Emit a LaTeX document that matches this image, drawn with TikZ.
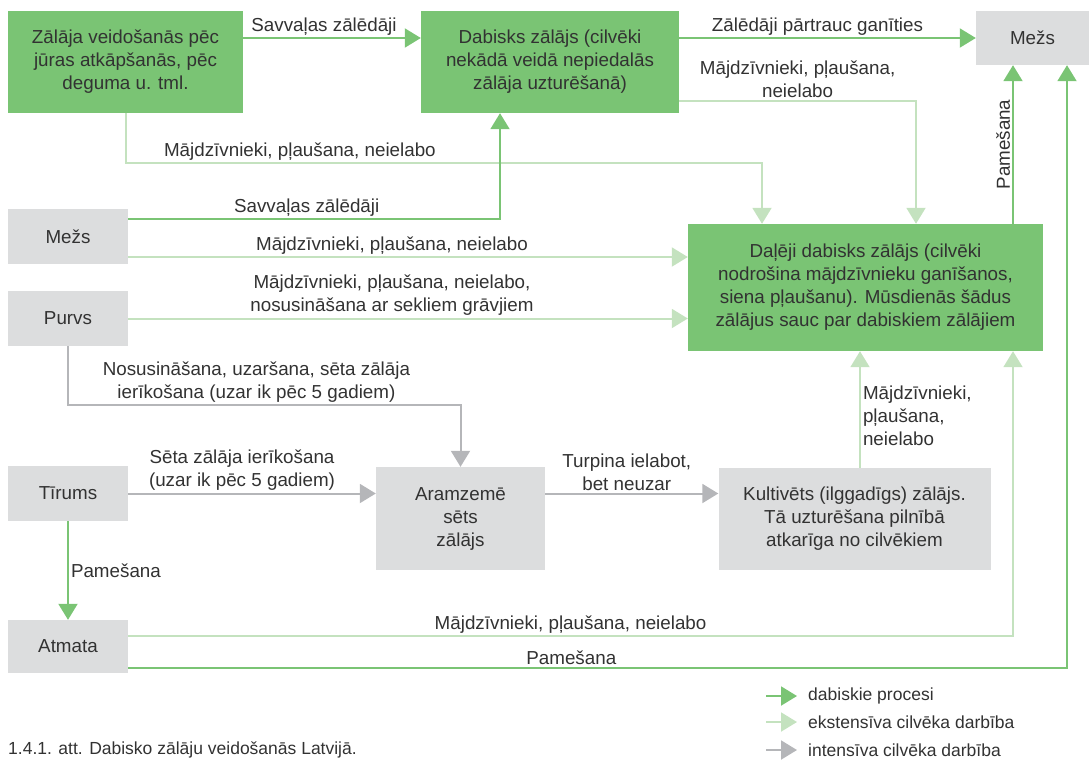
\documentclass[tikz,border=0pt]{standalone}
\usepackage{fontspec}
\setmainfont{Liberation Sans}
\usetikzlibrary{arrows.meta,calc}
\definecolor{dgreen}{RGB}{122,196,116}
\definecolor{lgreen}{RGB}{196,226,191}
\definecolor{gline}{RGB}{181,182,185}
\definecolor{gbox}{RGB}{220,221,222}
\definecolor{txt}{RGB}{50,50,50}
\begin{document}
\begin{tikzpicture}[x=1pt,y=-1pt,
  every node/.style={font=\fontsize{18.8}{23}\selectfont, text=txt},
  greenbox/.style={fill=dgreen, inner sep=0pt, align=center},
  graybox/.style={fill=gbox, inner sep=0pt, align=center},
  tip/.style={-{Triangle[length=16pt,width=19pt]}},
  dga/.style={draw=dgreen, line width=2pt, tip, dgreen},
  lga/.style={draw=lgreen, line width=2pt, tip, lgreen},
  gra/.style={draw=gline, line width=2pt, tip, gline},
  lbl/.style={inner sep=2pt, align=center, text=txt},
  leg/.style={font=\fontsize{17.5}{20}\selectfont, inner sep=0pt, anchor=west}]
\useasboundingbox (0,0) rectangle (1089,761);

% nodes
\node[greenbox, minimum width=235pt, minimum height=102pt] (box1) at (125.5,62) {Zālāja veidošanās pēc\\jūras atkāpšanās, pēc\\deguma u. tml.};
\node[greenbox, minimum width=258pt, minimum height=102pt] (box2) at (550,62) {Dabisks zālājs (cilvēki\\nekādā veidā nepiedalās\\zālāja uzturēšanā)};
\node[graybox, minimum width=113pt, minimum height=54pt] (mezsTR) at (1032.5,38) {Mežs};
\node[graybox, minimum width=120pt, minimum height=55pt] (mezsL) at (68,236.5) {Mežs};
\node[graybox, minimum width=120pt, minimum height=55pt] (purvs) at (68,318.5) {Purvs};
\node[greenbox, minimum width=355pt, minimum height=127pt] (dalj) at (865.5,287.5) {Daļēji dabisks zālājs (cilvēki\\nodrošina mājdzīvnieku ganīšanos,\\siena pļaušanu). Mūsdienās šādus\\zālājus sauc par dabiskiem zālājiem};
\node[graybox, minimum width=120pt, minimum height=55pt] (tirums) at (68,493.5) {Tīrums};
\node[graybox, minimum width=169pt, minimum height=103pt] (aram) at (460.5,518.5) {Aramzemē\\sēts\\zālājs};
\node[graybox, minimum width=272pt, minimum height=102pt] (kult) at (854.5,519) {Kultivēts (ilggadīgs) zālājs.\\Tā uzturēšana pilnībā\\atkarīga no cilvēkiem};
\node[graybox, minimum width=120pt, minimum height=53pt] (atmata) at (68,646.5) {Atmata};

% connectors
\draw[dga] ([yshift=24pt]box1.east) -- ([yshift=24pt]box2.west)
  node[lbl, midway, above, xshift=-8pt] {Savvaļas zālēdāji};
\draw[dga] ([yshift=24pt]box2.east) -- (mezsTR.west)
  node[lbl, midway, above, xshift=-10pt] {Zālēdāji pārtrauc ganīties};
\draw[lga] ([yshift=-39pt]box2.east) -| ([xshift=50.5pt]dalj.north)
  node[lbl, pos=0.25, above] {Mājdzīvnieki, pļaušana,\\neielabo};
\coordinate (c4) at (762,163);
\draw[lga] (box1.south) |- (c4) -- (c4 |- dalj.north);
\path (box1.south) |- (c4) node[lbl, pos=0.637, above] {Mājdzīvnieki, pļaušana, neielabo};
\draw[dga] ([yshift=17.5pt]mezsL.east) -| ([xshift=-50pt]box2.south)
  node[lbl, pos=0.24, above] {Savvaļas zālēdāji};
\coordinate (m6) at ([yshift=-20.5pt]mezsL.east);
\draw[lga] (m6) -- (m6 -| dalj.west)
  node[lbl, midway, above, xshift=-16pt] {Mājdzīvnieki, pļaušana, neielabo};
\draw[lga] (purvs.east) -- (purvs.east -| dalj.west)
  node[lbl, midway, above, xshift=-16pt] {Mājdzīvnieki, pļaušana, neielabo,\\nosusināšana ar sekliem grāvjiem};
\draw[gra] (purvs.south) |- ([yshift=62pt]aram.north) -- (aram.north);
\path (purvs.south) |- ([yshift=62pt]aram.north)
  node[lbl, pos=0.74, above] {Nosusināšana, uzaršana, sēta zālāja\\ierīkošana (uzar ik pēc 5 gadiem)};
\draw[gra] (tirums.east) -- (tirums.east -| aram.west)
  node[lbl, midway, above, xshift=-10pt] {Sēta zālāja ierīkošana\\(uzar ik pēc 5 gadiem)};
\draw[gra] (tirums.east -| aram.east) -- (tirums.east -| kult.west)
  node[lbl, midway, above, xshift=-5pt] {Turpina ielabot,\\bet neuzar};
\coordinate (k11) at ([xshift=5.5pt]kult.north);
\draw[lga] (k11) -- (k11 |- dalj.south)
  node[lbl, midway, right, align=left, yshift=-6pt] {Mājdzīvnieki,\\pļaušana,\\neielabo};
\draw[dga] (tirums.south) -- (atmata.north)
  node[lbl, midway, right] {Pamešana};
\draw[lga] ([yshift=10.5pt]atmata.east) -| ([xshift=147.5pt]dalj.south)
  node[lbl, pos=0.25, above] {Mājdzīvnieki, pļaušana, neielabo};
\draw[dga] ([yshift=-21.5pt]atmata.east) -| ([xshift=34.5pt]mezsTR.south)
  node[lbl, pos=0.236, above] {Pamešana};
\draw[dga] ([xshift=147.5pt]dalj.north) -- ([xshift=-19.5pt]mezsTR.south)
  node[lbl, midway, sloped, above] {Pamešana};

% legend
\node[leg] (t1) at (808,696) {dabiskie procesi};
\node[leg] (t2) at (808,722) {ekstensīva cilvēka darbība};
\node[leg] (t3) at (808,750) {intensīva cilvēka darbība};
\coordinate (s1) at (766,696);
\coordinate (s2) at (766,722);
\coordinate (s3) at (766,750);
\draw[dga] (s1) -- ([xshift=-11pt]t1.west);
\draw[lga] (s2) -- ([xshift=-11pt]t2.west);
\draw[gra] (s3) -- ([xshift=-11pt]t3.west);
\node[leg] (cap) at (8,750) {1.4.1. att. Dabisko zālāju veidošanās Latvijā.};
\end{tikzpicture}
\end{document}
